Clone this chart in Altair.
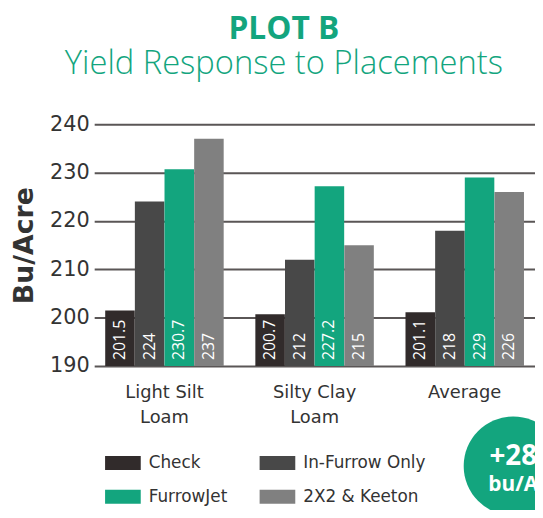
import altair as alt
import pandas as pd

soils = ["Light Silt Loam", "Silty Clay Loam", "Average"]
series = ["Check", "In-Furrow Only", "FurrowJet", "2X2 & Keeton"]
colors = ["#312b2b", "#484848", "#13a57e", "#808080"]
check = [201.5, 200.7, 201.1]
in_furrow = [224, 212, 218]
furrowjet = [230.7, 227.2, 229]
keeton = [237, 215, 226]
badge_lines = ["+28", "bu/A"]

rows = []
for i, s in enumerate(soils):
    for name, vals in zip(series, [check, in_furrow, furrowjet, keeton]):
        rows.append({"soil": s, "series": name, "value": vals[i], "base": 190})
df = pd.DataFrame(rows)

FONT = "DejaVu Sans"
TFONT = "Open Sans"
GREEN = "#13a57e"

x = alt.X("soil:N", sort=soils, title=None,
          scale=alt.Scale(paddingInner=0.21, paddingOuter=0.073),
          axis=alt.Axis(labelAngle=0, labelFontSize=18, labelColor="#333333",
                        labelFont=FONT, ticks=False, domain=False,
                        labelPadding=18, labelLineHeight=25, labelBaseline="top",
                        labelExpr="datum.label == 'Average' ? 'Average' : [slice(datum.label, 0, lastindexof(datum.label, ' ')), slice(datum.label, lastindexof(datum.label, ' ') + 1)]"))
y = alt.Y("value:Q", title="Bu/Acre",
          scale=alt.Scale(domain=[190, 240], nice=False, zero=False),
          axis=alt.Axis(values=[190, 200, 210, 220, 230, 240], ticks=False, domain=False,
                        grid=True, gridColor="#5a5656", gridWidth=2, gridOpacity=1,
                        labelFontSize=21, labelColor="#333333", labelFont=FONT,
                        labelPadding=5,
                        titleFont=FONT, titleFontSize=27, titleFontWeight="bold",
                        titleColor="#333333", titlePadding=11))
xo = alt.XOffset("series:N", sort=series)

bars = alt.Chart(df).mark_bar(size=29.8).encode(
    x=x, xOffset=xo, y=y, y2="base:Q",
    color=alt.Color("series:N", sort=series,
                    scale=alt.Scale(domain=series, range=colors),
                    legend=alt.Legend(title=None, orient="none", legendX=11, legendY=324,
                                      columns=2, direction="horizontal",
                                      symbolType="M-1,-0.39H1V0.39H-1Z", symbolSize=1296,
                                      symbolStrokeWidth=0, symbolOpacity=1,
                                      labelFont=FONT, labelFontSize=17,
                                      labelColor="#333333", labelOffset=8,
                                      columnPadding=32, rowPadding=8, padding=0)),
)

labels = alt.Chart(df).mark_text(angle=270, align="left", baseline="middle", dx=6,
                                 color="white", fontSize=16, font=TFONT, fontWeight=500).encode(
    x=x, xOffset=xo, y=alt.Y("base:Q", scale=alt.Scale(domain=[190, 240], nice=False, zero=False)),
    text=alt.Text("value:Q"),
)

badge_df = pd.DataFrame({"t": [badge_lines[0]], "b": [badge_lines[1]]})
circle = alt.Chart(badge_df).mark_point(shape="circle", filled=True, opacity=1,
                                        color=GREEN, size=10000, clip=False).encode(
    x=alt.value(423), y=alt.value(345))
t1 = alt.Chart(badge_df).mark_text(color="white", fontSize=28, fontWeight="bold", font=TFONT,
                                   align="center", baseline="middle").encode(
    x=alt.value(423), y=alt.value(336), text="t:N")
t2 = alt.Chart(badge_df).mark_text(color="white", fontSize=21, fontWeight="bold", font=TFONT,
                                   align="center", baseline="middle").encode(
    x=alt.value(423), y=alt.value(364), text="b:N")

chart = alt.layer(bars, labels, circle, t1, t2).properties(
    width=445, height=244,
    autosize=alt.AutoSizeParams(type="none"),
    padding={"left": 87, "top": 115, "right": 0, "bottom": 143},
    title=alt.Title("PLOT B", subtitle="Yield Response to Placements",
                    font=TFONT, fontSize=32, fontWeight="bold", color=GREEN,
                    subtitleFont=TFONT, subtitleFontSize=33, subtitleFontWeight=300,
                    subtitleColor=GREEN, subtitlePadding=2, anchor="middle", dx=-31, offset=32),
).configure_view(stroke=None)

chart.save("out.html", embed_options={"renderer": "svg", "actions": False})
